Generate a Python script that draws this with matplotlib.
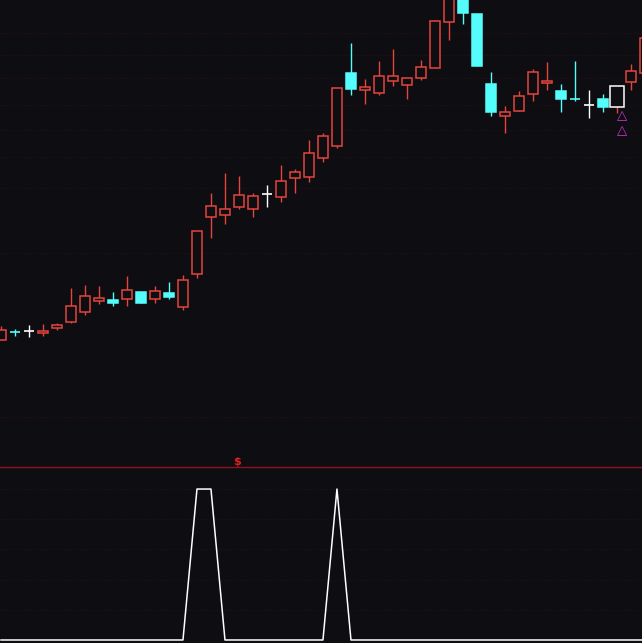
import matplotlib.pyplot as plt

# candle data (price units), one entry per bar
opens = [14.0, 14.85, 14.9, 14.67, 15.23, 15.8, 16.83, 17.93, 18.0, 18.07,
         18.8, 18.07, 18.73, 17.33, 20.57, 26.27, 26.47, 27.27, 27.13, 28.6,
         28.33, 30.23, 30.33, 32.17, 33.43, 40.73, 39.03, 38.73, 39.93, 39.55,
         40.25, 41.17, 45.83, 48.3, 46.6, 39.6, 36.43, 36.93, 38.63, 39.73,
         38.9, 38.1, 37.47, 38.1, 37.33, 39.83, 40.7]
closes = [15.0, 14.8, 14.9, 14.93, 15.5, 17.4, 18.4, 18.2, 17.73, 19.0,
          17.73, 18.87, 18.33, 20.0, 24.9, 27.4, 27.07, 28.5, 28.37, 28.6,
          29.9, 30.77, 32.67, 34.4, 39.17, 39.13, 39.3, 40.37, 40.37, 40.15,
          41.3, 45.9, 48.8, 46.73, 41.43, 36.83, 36.77, 38.37, 40.8, 39.9,
          38.1, 38.03, 37.47, 37.33, 39.37, 40.9, 44.2]
highs = [15.4, 15.1, 15.5, 15.6, 15.7, 19.2, 19.53, 19.4, 18.8, 20.4,
         18.8, 19.4, 19.8, 20.5, 24.9, 28.67, 30.67, 30.4, 28.73, 29.5,
         31.5, 31.07, 34.0, 34.73, 39.2, 43.73, 40.1, 41.93, 43.07, 40.15,
         42.0, 46.0, 49.2, 48.8, 46.6, 40.83, 37.4, 38.93, 41.07, 41.83,
         39.63, 41.93, 39.0, 38.6, 39.37, 41.57, 45.0]
lows = [14.0, 14.4, 14.3, 14.4, 15.0, 15.73, 16.5, 17.6, 17.43, 17.4,
        17.73, 17.73, 18.07, 17.0, 20.23, 24.17, 25.6, 27.07, 26.27, 27.33,
        27.83, 28.67, 29.83, 31.77, 33.23, 38.5, 37.6, 38.53, 39.4, 38.15,
        40.0, 41.17, 44.0, 45.6, 41.43, 36.43, 34.67, 36.93, 37.9, 39.0,
        36.83, 37.93, 36.17, 36.83, 36.67, 39.0, 40.7]
selected_bar = 44

# signal markers below the selected bar
tri_bars = [44, 44]
tri_prices = [36.4, 34.9]

# lower indicator
signal = [0, 0, 0, 0, 0, 0, 0, 0, 0, 0,
          0, 0, 0, 0, 1, 1, 0, 0, 0, 0,
          0, 0, 0, 0, 1, 0, 0, 0, 0, 0,
          0, 0, 0, 0, 0, 0, 0, 0, 0, 0,
          0, 0, 0, 0, 0, 0, 0]
dollar_bar = 17

main_grid = [44.7, 42.5, 40.2, 37.5, 35.0, 32.3, 29.2, 22.7, 6.3]
sub_grid = [0.2, 0.4, 0.6, 0.8, 1.0]

BG = '#0e0d11'
RED = '#e4453d'
CYAN = '#54fcfc'
WHITE = '#ffffff'
GRID = '#2c1016'

fig = plt.figure(figsize=(6.42, 6.43), dpi=100, facecolor=BG)
ax = fig.add_axes([0, 176 / 643, 1, 467 / 643])
ax2 = fig.add_axes([0, 0, 1, 176 / 643])

for a in (ax, ax2):
    a.set_facecolor(BG)
    a.set_xticks([])
    a.set_yticks([])
    for s in a.spines.values():
        s.set_visible(False)
    a.set_xlim(-0.07, 45.79)

ax.set_ylim(1.3, 48.0)
ax2.set_ylim(-0.02, 1.146)

for g in main_grid:
    ax.axhline(g, color=GRID, lw=0.8, ls=(0, (1, 2)), zorder=0)
for g in sub_grid:
    ax2.axhline(g, color=GRID, lw=0.8, ls=(0, (1, 2)), zorder=0)

w = 0.72
for i, (o, c, h, l) in enumerate(zip(opens, closes, highs, lows)):
    if i == selected_bar:
        col, edge, face = RED, WHITE, BG
        bw = 0.98
    elif c > o:
        col, edge, face = RED, RED, BG
        bw = w
    elif c < o:
        col, edge, face = CYAN, CYAN, CYAN
        bw = w
    else:
        col, edge, face = WHITE, WHITE, WHITE
        bw = w
    ax.vlines(i, l, h, color=col, lw=1, zorder=2)
    if abs(c - o) < 0.12:
        ax.hlines((o + c) / 2, i - bw / 2, i + bw / 2, color=col, lw=1.2, zorder=3)
    else:
        ax.bar(i, abs(c - o), bottom=min(o, c), width=bw, facecolor=face,
               edgecolor=edge, lw=1.1, zorder=3)

for b, p in zip(tri_bars, tri_prices):
    ax.text(b + 0.38, p, '\u25b3', color='#d035d0', fontsize=9.5,
            ha='center', va='center', zorder=4)

# lower panel
ax2.spines['top'].set_visible(True)
ax2.spines['top'].set_color('#8a1424')
ax2.spines['top'].set_linewidth(1)
ax2.plot(range(len(signal)), signal, color=WHITE, lw=1.1, zorder=3)
ax2.text(dollar_bar - 0.15, 1.146, '$', color='#e02020', fontsize=8,
         fontweight='bold', ha='center', va='bottom', clip_on=False)

fig.savefig('out.png', dpi=100, facecolor=BG)
